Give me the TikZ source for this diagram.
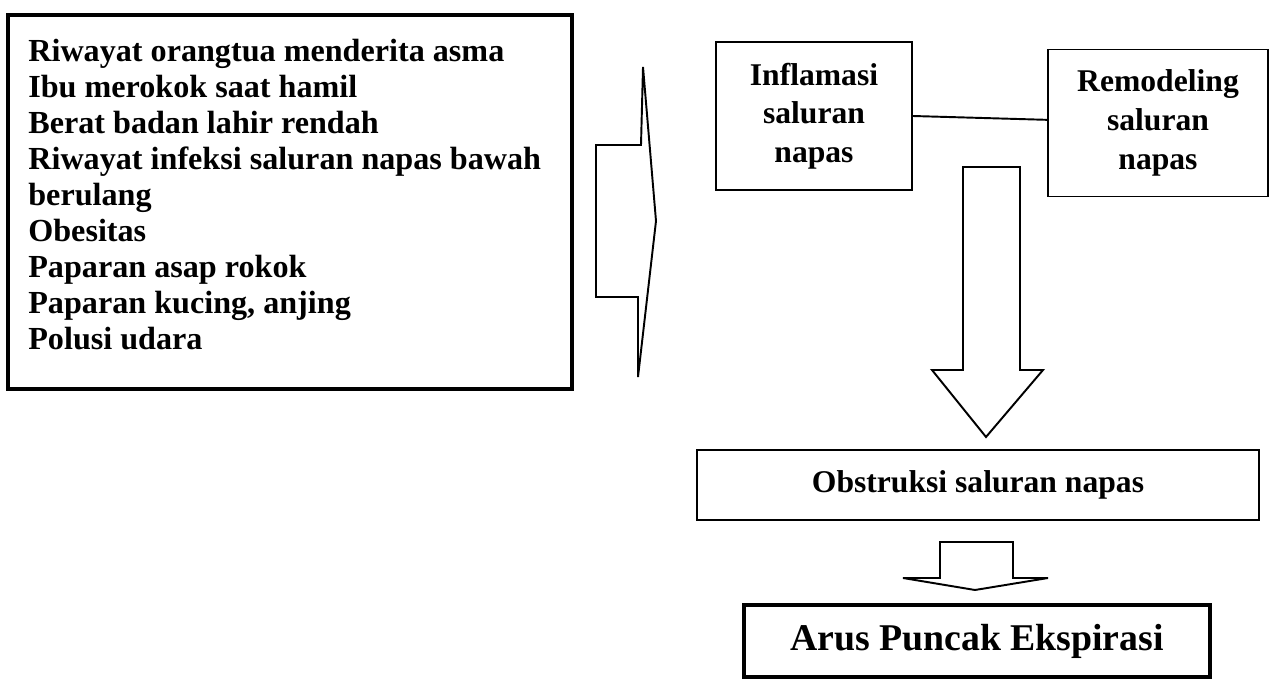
\documentclass[tikz,border=0pt]{standalone}
\usepackage{fontspec}
\setmainfont{Liberation Serif}

\begin{document}
\begin{tikzpicture}[
  x=0.02cm, y=-0.02cm,
  box/.style={draw, line width=1.1pt, align=center, inner sep=0pt, font=\fontsize{18}{22}\selectfont\bfseries},
  heavybox/.style={draw, line width=2.3pt, inner sep=0pt},
  blockarrow/.style={draw, line width=1.1pt, line join=miter},
  link/.style={line width=1.1pt},
]
%page
\useasboundingbox (0,0) rectangle (1275,682);

%risk factors
\node[heavybox, minimum width=11.3cm, minimum height=7.5cm] (faktor) at (290,202) {};
\node[anchor=north west, align=left, inner sep=0pt, font=\fontsize{18.3}{20.5}\selectfont\bfseries] (daftar) at (28,39) {Riwayat orangtua menderita asma\\
Ibu merokok saat hamil\\
Berat badan lahir rendah\\
Riwayat infeksi saluran napas bawah\\
berulang\\
Obesitas\\
Paparan asap rokok\\
Paparan kucing, anjing\\
Polusi udara};

%big arrow to the right
\draw[blockarrow] (596,145) -- (641,145) -- (643,67) -- (656,221) -- (638,377) -- (638,297) -- (596,297) -- cycle;

%airway
\node[box, minimum width=3.92cm, minimum height=2.96cm] (inflamasi) at (814,116) {Inflamasi\\saluran\\napas};
\node[box, minimum width=4.4cm, minimum height=2.94cm] (remodeling) at (1158,123) {Remodeling\\saluran\\napas};
\draw[link] (inflamasi.east) -- ([yshift=1.8pt]remodeling.west);

%down arrows
\draw[blockarrow] (963,167) -- (1020,167) -- (1020,370) -- (1043,370) -- (986,437) -- (932,370) -- (963,370) -- cycle;
\draw[blockarrow] (940,542) -- (1013,542) -- (1013,578) -- (1048,578) -- (975,590) -- (903,578) -- (940,578) -- cycle;

%outcome
\node[box, minimum width=11.26cm, minimum height=1.4cm] (obstruksi) at (978,485) {Obstruksi saluran napas};
\node[heavybox, minimum width=9.32cm, minimum height=1.44cm, font=\fontsize{21.5}{24}\selectfont\bfseries] (ape) at (977,641) {Arus Puncak Ekspirasi};

\end{tikzpicture}
\end{document}
